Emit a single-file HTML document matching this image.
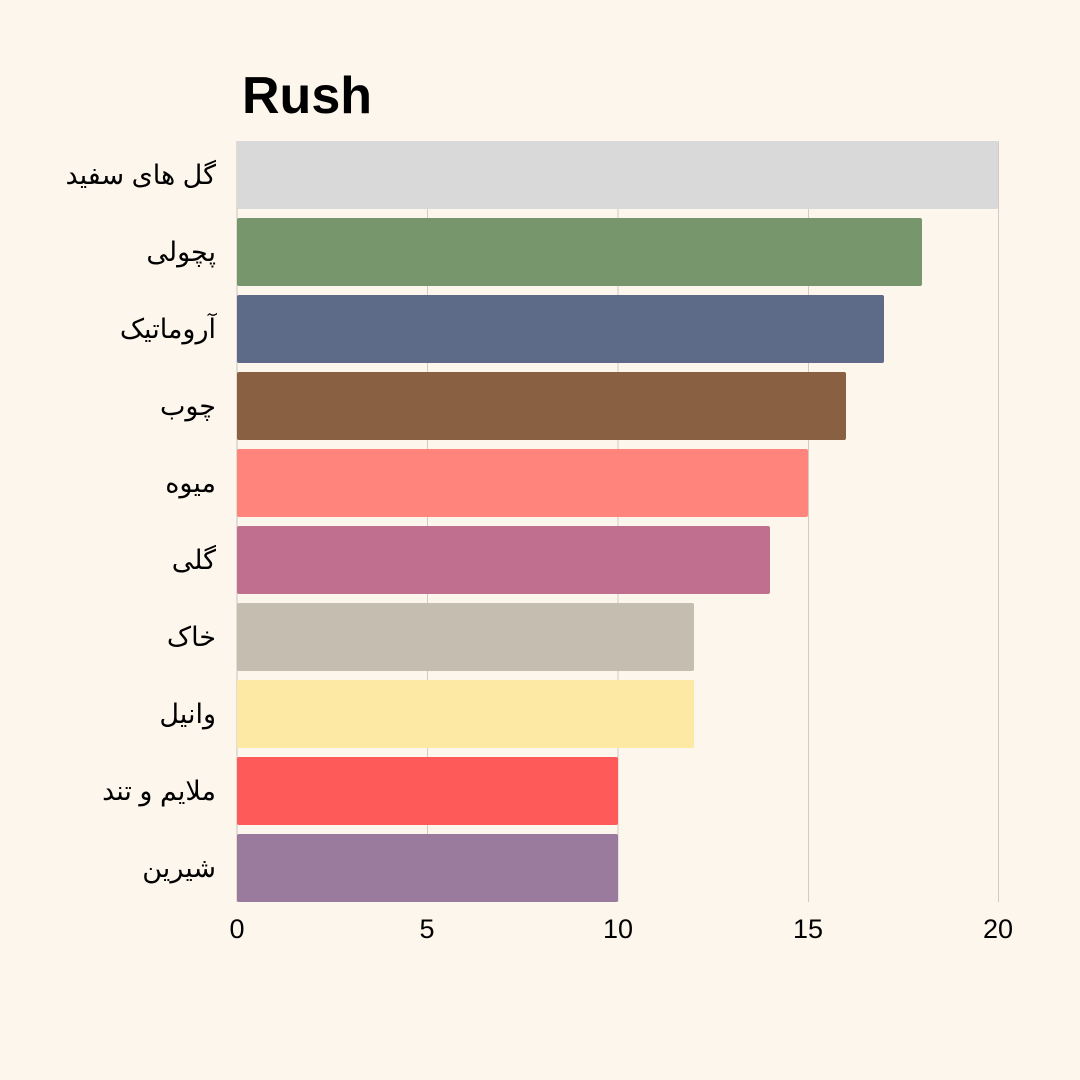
<!DOCTYPE html>
<html><head><meta charset="utf-8"><style>
html,body{margin:0;padding:0;background:#fdf6ec;}
svg{display:block}
</style></head><body>
<svg width="1080" height="1080" viewBox="0 0 1080 1080" xmlns="http://www.w3.org/2000/svg">
<rect width="1080" height="1080" fill="#fdf6ec"/>
<text x="242" y="113" font-family="Liberation Sans, sans-serif" font-size="52" font-weight="bold" fill="#000">Rush</text>
<g stroke="#d0ccc4" stroke-width="1">
<line x1="427.5" y1="141" x2="427.5" y2="902"/>
<line x1="618" y1="141" x2="618" y2="902"/>
<line x1="808.5" y1="141" x2="808.5" y2="902"/>
<line x1="998.5" y1="141" x2="998.5" y2="902"/>
</g>
<line x1="237" y1="141" x2="237" y2="902" stroke="#c8c4bc" stroke-width="1"/>
<g>
<rect x="237" y="141" width="761" height="68" rx="2" fill="#d9d9d9"/>
<rect x="237" y="218" width="685" height="68" rx="2" fill="#78966b"/>
<rect x="237" y="295" width="647" height="68" rx="2" fill="#5d6b89"/>
<rect x="237" y="372" width="609" height="68" rx="2" fill="#8a6042"/>
<rect x="237" y="449" width="571" height="68" rx="2" fill="#ff847c"/>
<rect x="237" y="526" width="533" height="68" rx="2" fill="#c06f8e"/>
<rect x="237" y="603" width="457" height="68" rx="2" fill="#c4bdb0"/>
<rect x="237" y="680" width="457" height="68" rx="2" fill="#fde9a3"/>
<rect x="237" y="757" width="381" height="68" rx="2" fill="#ff5a5a"/>
<rect x="237" y="834" width="381" height="68" rx="2" fill="#9a7b9e"/>
</g>
<g font-family="Liberation Sans, DejaVu Sans, sans-serif" font-size="27" fill="#000" text-anchor="end">
<text x="216" y="184">گل های سفید</text>
<text x="216" y="261">پچولی</text>
<text x="216" y="338">آروماتیک</text>
<text x="216" y="415">چوب</text>
<text x="216" y="492">میوه</text>
<text x="216" y="569">گلی</text>
<text x="216" y="646">خاک</text>
<text x="216" y="723">وانیل</text>
<text x="216" y="800">ملایم و تند</text>
<text x="216" y="877">شیرین</text>
</g>
<g font-family="Liberation Sans, sans-serif" font-size="27" fill="#000" text-anchor="middle">
<text x="237" y="938">0</text>
<text x="427" y="938">5</text>
<text x="618" y="938">10</text>
<text x="808" y="938">15</text>
<text x="998" y="938">20</text>
</g>
</svg>
</body></html>
